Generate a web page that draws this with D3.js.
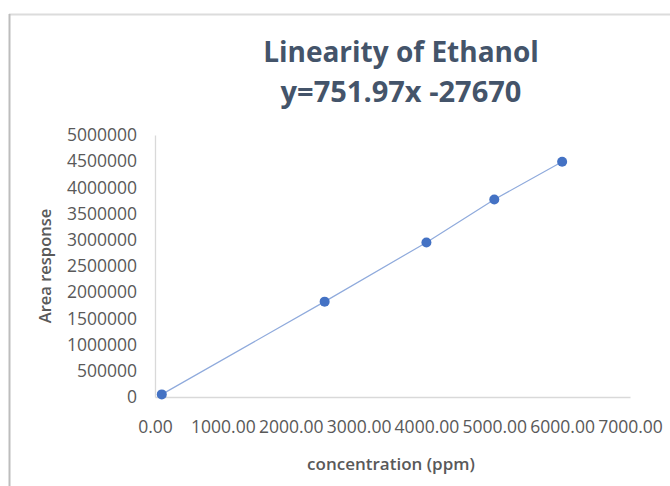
<!DOCTYPE html>
<html>
<head>
<meta charset="utf-8">
<script src="https://cdn.jsdelivr.net/npm/d3@7"></script>
<style>
  body { margin: 0; background: #fff; }
  text { font-family: "Open Sans", "Noto Sans", sans-serif; }
</style>
</head>
<body>
<div id="chart"></div>
<script>
// concentration (ppm) and area response
const concentration = [100, 2500, 4000, 5000, 6000];
const areaResponse = [50000, 1820000, 2950000, 3770000, 4490000];
const xTicks = [0, 1000, 2000, 3000, 4000, 5000, 6000, 7000];
const yTicks = [0, 500000, 1000000, 1500000, 2000000, 2500000, 3000000, 3500000, 4000000, 4500000, 5000000];
const titleLines = ["Linearity of Ethanol", "y=751.97x -27670"];

function draw_chart() {
    const W = 670, H = 486;
    const margin = { top: 135, right: 40, bottom: 89, left: 155 };
    const width = W - margin.left - margin.right;
    const height = H - margin.top - margin.bottom;

    const svg = d3.select("#chart").append("svg")
        .attr("width", W)
        .attr("height", H);

    // chart area frame (top + left edges visible)
    svg.append("line").attr("x1", 9).attr("x2", W).attr("y1", 14.5).attr("y2", 14.5)
        .attr("stroke", "#dcdcdc").attr("stroke-width", 2);
    svg.append("line").attr("x1", 9.5).attr("x2", 9.5).attr("y1", 14).attr("y2", H)
        .attr("stroke", "#bdbdbd").attr("stroke-width", 2);

    const g = svg.append("g")
        .attr("transform", "translate(" + margin.left + "," + margin.top + ")");

    const x = d3.scaleLinear().domain([0, 7000]).range([0, width]);
    const y = d3.scaleLinear().domain([0, 5000000]).range([height, 0]);

    // axes
    const xAxis = g.append("g")
        .attr("transform", "translate(0," + height + ")")
        .call(d3.axisBottom(x).tickValues(xTicks).tickSize(0).tickPadding(24)
            .tickFormat(d => d3.format(".2f")(d)));
    const yAxis = g.append("g")
        .call(d3.axisLeft(y).tickValues(yTicks).tickSize(0).tickPadding(18)
            .tickFormat(d => d));

    [xAxis, yAxis].forEach(a => {
        a.select(".domain").attr("stroke", "#d9d9d9").attr("stroke-width", 1.3);
        a.selectAll("text").attr("fill", "#595959").style("font-size", "17.5px")
            .style("font-family", "'Open Sans', sans-serif");
    });

    // series line + markers
    const pts = concentration.map((c, i) => ({ x: c, y: areaResponse[i] }));
    const line = d3.line().x(d => x(d.x)).y(d => y(d.y));
    g.append("path")
        .datum(pts)
        .attr("d", line)
        .attr("fill", "none")
        .attr("stroke", "#8faadc")
        .attr("stroke-width", 1.2);
    g.selectAll("circle")
        .data(pts)
        .enter().append("circle")
        .attr("cx", d => x(d.x))
        .attr("cy", d => y(d.y))
        .attr("r", 5)
        .attr("fill", "#4472c4");

    // title
    svg.selectAll(".title")
        .data(titleLines)
        .enter().append("text")
        .attr("class", "title")
        .attr("x", 401)
        .attr("y", (d, i) => 62 + i * 40)
        .attr("text-anchor", "middle")
        .attr("fill", "#44546a")
        .style("font-size", (d, i) => i ? "29px" : "28px")
        .style("font-weight", "bold")
        .text(d => d);

    // axis titles
    svg.append("text")
        .attr("transform", "translate(51," + (margin.top + height / 2) + ") rotate(-90)")
        .attr("text-anchor", "middle")
        .attr("fill", "#595959")
        .style("font-size", "16.5px")
        .style("font-weight", 600)
        .text("Area response");
    svg.append("text")
        .attr("x", 391)
        .attr("y", 470)
        .attr("text-anchor", "middle")
        .attr("fill", "#595959")
        .style("font-size", "17px")
        .style("font-weight", 600)
        .text("concentration (ppm)");
}

draw_chart();
</script>
</body>
</html>
